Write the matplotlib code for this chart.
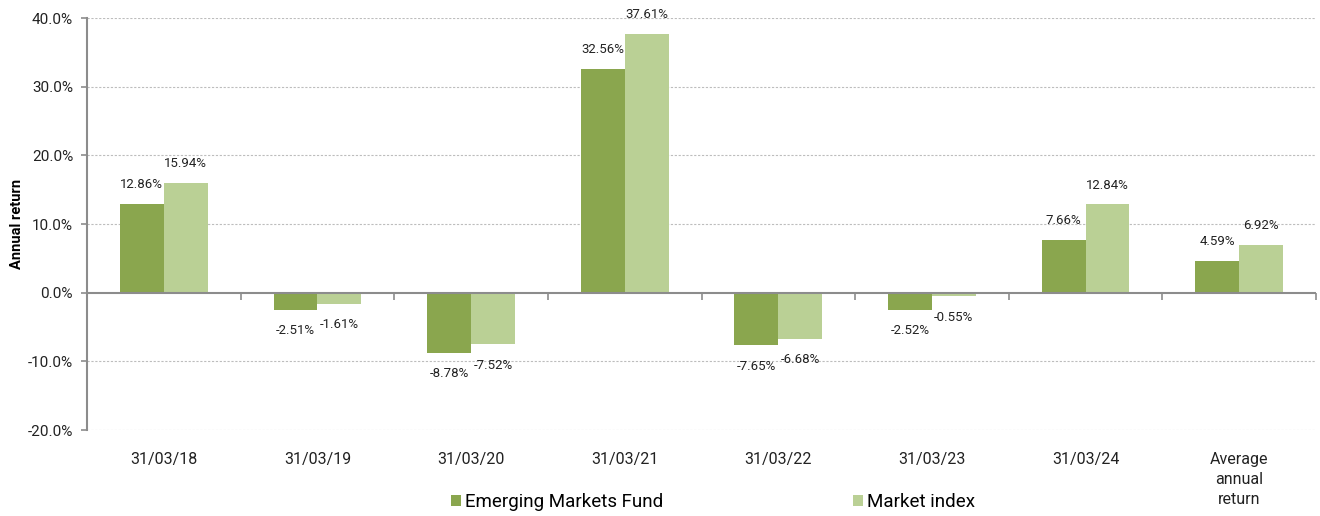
import matplotlib
matplotlib.use("Agg")
import matplotlib.pyplot as plt
import numpy as np
from matplotlib.ticker import FuncFormatter, MultipleLocator

plt.rcParams['font.family'] = ['Roboto', 'DejaVu Sans']

categories = ["31/03/18", "31/03/19", "31/03/20", "31/03/21", "31/03/22",
              "31/03/23", "31/03/24", "Average\nannual\nreturn"]
fund = [12.86, -2.51, -8.78, 32.56, -7.65, -2.52, 7.66, 4.59]
index = [15.94, -1.61, -7.52, 37.61, -6.68, -0.55, 12.84, 6.92]
series_names = ["Emerging Markets Fund", "Market index"]

c_fund = "#8aa64e"
c_index = "#bad095"

fig = plt.figure(figsize=(13.2, 5.16), dpi=100)
ax = fig.add_axes([87/1320, 1-430/516, (1316-87)/1320, (430-18)/516])

x = np.arange(len(categories))
w = 0.286
b1 = ax.bar(x - w/2, fund, w, color=c_fund, label=series_names[0], zorder=3)
b2 = ax.bar(x + w/2, index, w, color=c_index, label=series_names[1], zorder=3)

ax.set_xlim(-0.5, len(categories) - 0.5)
ax.set_ylim(-20, 40)
ax.yaxis.set_major_locator(MultipleLocator(10))
ax.yaxis.set_major_formatter(FuncFormatter(lambda v, p: f"{v:.1f}%"))

for v in [-20, -10, 10, 20, 30, 40]:
    ax.axhline(v, color="#bdbdbd", lw=0.8, ls=(0, (2, 1.5)), zorder=1)
ax.axhline(0, color="#8c8c8c", lw=1.5, zorder=4)

for s in ["top", "right", "bottom"]:
    ax.spines[s].set_visible(False)
ax.spines["left"].set_color("#8c8c8c")
ax.spines["left"].set_linewidth(1.5)

ax.tick_params(axis="y", length=4, width=1.2, color="#8c8c8c", labelsize=11,
               pad=6, labelcolor="#222222")
ax.set_xticks(x)
ax.set_xticklabels(categories, fontsize=11.5, color="#222222", va="top", linespacing=1.42)
ax.tick_params(axis="x", length=0, pad=15.5)

sec = ax.secondary_xaxis(0, transform=ax.transData)
sec.set_xticks(np.arange(len(categories) + 1) - 0.5)
sec.set_xticklabels([])
sec.tick_params(axis="x", length=5, width=1.2, color="#8c8c8c", direction="out")
sec.spines["bottom"].set_visible(False)

ax.set_ylabel("Annual return", fontsize=10.5, fontweight="bold")
ax.yaxis.set_label_coords(-0.0515, 0.5)

def label(bars, vals):
    for r, v in zip(bars, vals):
        cx = r.get_x() + r.get_width() / 2
        if v >= 0:
            ax.annotate(f"{v:.2f}%", (cx, v), xytext=(0, 14), textcoords="offset points",
                        ha="center", va="center", fontsize=9.5, color="#222222", zorder=5)
        else:
            ax.annotate(f"{v:.2f}%", (cx, v), xytext=(0, -15), textcoords="offset points",
                        ha="center", va="center", fontsize=9.5, color="#222222", zorder=5)

label(b1, fund)
label(b2, index)

fig.legend(handles=[b1, b2], labels=series_names, loc="center",
           bbox_to_anchor=(713/1320, 1-502/516), ncol=2, frameon=False, fontsize=13.5,
           handlelength=0.55, handleheight=0.55, handletextpad=0.22, columnspacing=10.1)

fig.savefig("out.png", dpi=100)
